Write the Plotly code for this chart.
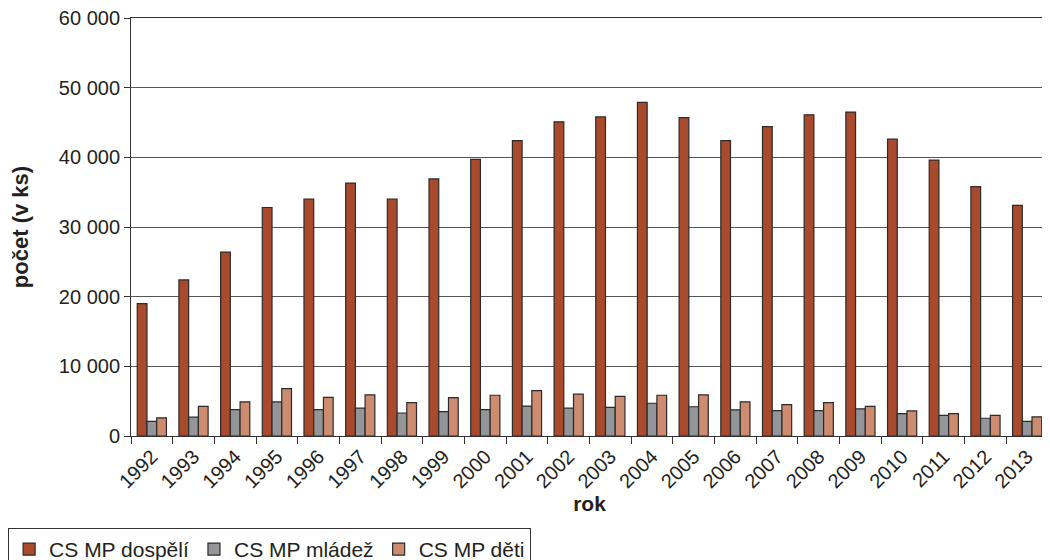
import plotly.graph_objects as go

years = [str(y) for y in range(1992, 2014)]
dospeli = [19000, 22400, 26400, 32800, 34000, 36300, 34000, 36900, 39700, 42400, 45100,
           45800, 47900, 45700, 42400, 44400, 46100, 46500, 42600, 39600, 35800, 33100]
mladez = [2100, 2700, 3800, 4900, 3800, 4000, 3300, 3500, 3800, 4300, 4000,
          4100, 4700, 4200, 3750, 3650, 3650, 3900, 3200, 2950, 2550, 2100]
deti = [2600, 4250, 4900, 6800, 5550, 5900, 4800, 5500, 5850, 6500, 6000,
        5700, 5850, 5900, 4900, 4500, 4800, 4250, 3600, 3200, 2950, 2750]
y_ticks = [0, 10000, 20000, 30000, 40000, 50000, 60000]

series = [("CS MP dospělí", dospeli, "#A84A2B"),
          ("CS MP mládež", mladez, "#939598"),
          ("CS MP děti", deti, "#CD8B6F")]

fig = go.Figure()
for name, vals, col in series:
    fig.add_trace(go.Bar(x=years, y=vals, name=name, marker_color=col,
                         marker_line=dict(color="#2b2b2b", width=1.2)))

font = "Liberation Sans, Arial, sans-serif"
fig.update_layout(
    width=1042, height=552,
    margin=dict(l=123, r=2, t=10, b=124, autoexpand=False),
    paper_bgcolor="white", plot_bgcolor="white",
    barmode="group", bargap=0.30, bargroupgap=0,
    separators=", ",
    font=dict(family=font, size=20, color="#231f20"),
    showlegend=True,
    legend=dict(orientation="h", x=-0.134, xanchor="left",
                y=-0.22, yanchor="top", bordercolor="#333", borderwidth=1,
                font=dict(size=21), tracegroupgap=0,
                traceorder="normal"),
)
fig.update_xaxes(
    type="category", tickangle=-45, ticks="outside", tickson="boundaries",
    ticklen=7, tickcolor="#333", showline=True, linecolor="#333", linewidth=1,
    mirror=True,
    tickfont=dict(size=20), automargin=False,
    title=dict(text="<b>rok</b>", font=dict(size=21), standoff=2),
)
fig.update_yaxes(
    range=[0, 60000], tickvals=y_ticks, tickformat=",d",
    ticks="outside", ticklen=6, tickcolor="#333", ticklabeloverflow="allow",
    showline=True, linecolor="#333", linewidth=1,
    showgrid=True, gridcolor="#555", gridwidth=1, zeroline=False,
    tickfont=dict(size=20), automargin=False,
    title=dict(text="<b>počet (v ks)</b>", font=dict(size=22), standoff=25),
)

fig.write_html("out.html")
